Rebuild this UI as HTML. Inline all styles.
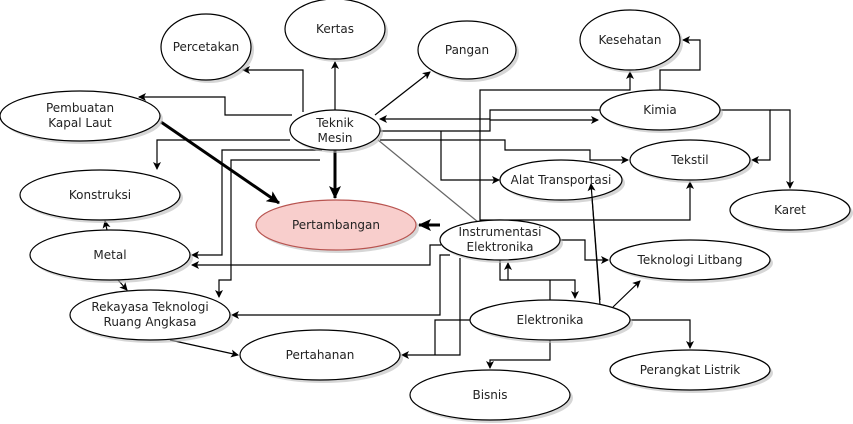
<!DOCTYPE html>
<html><head><meta charset="utf-8"><style>
html,body{margin:0;padding:0;background:#fff;}
svg{display:block;}
text{font-family:"DejaVu Sans","Liberation Sans",sans-serif;font-size:12px;fill:#222;text-anchor:middle;}
</style></head><body>
<svg width="853" height="424" viewBox="0 0 853 424" xmlns="http://www.w3.org/2000/svg">
<defs>
<marker id="a" markerWidth="8" markerHeight="8" refX="7" refY="4" orient="auto" markerUnits="userSpaceOnUse"><path d="M0,0 L8,4 L0,8 L2,4 z" fill="#000"/></marker>
<marker id="b" markerWidth="14" markerHeight="12" refX="12" refY="6" orient="auto" markerUnits="userSpaceOnUse"><path d="M0,0 L13,6 L0,12 L3,6 z" fill="#000"/></marker>
</defs>
<g fill="none" stroke="#000" stroke-width="1.2">
<path d="M335,110 V62" marker-end="url(#a)"/>
<path d="M303,112 V70 H243" marker-end="url(#a)"/>
<path d="M292,115 H225 V97 H139" marker-end="url(#a)"/>
<path d="M375,115 L430,72" marker-end="url(#a)"/>
<path d="M600,110 H490 V119 H380" marker-end="url(#a)"/>
<path d="M380,131 H490 V120 H598" marker-end="url(#a)"/>
<path d="M380,140 H505 V150 H590 V160 H628" marker-end="url(#a)"/>
<path d="M441,131 V180 H499" marker-end="url(#a)"/>
<path d="M660,90 V70 H700 V40 H683" marker-end="url(#a)"/>
<path d="M480,222 V90 H630 V72" marker-end="url(#a)"/>
<path d="M720,110 H770 V160 H752" marker-end="url(#a)"/>
<path d="M770,110 H790 V188" marker-end="url(#a)"/>
<path d="M480,220 H690 V182" marker-end="url(#a)"/>
<path d="M600,305 L591,184" marker-end="url(#a)"/>
<path d="M290,140 H157 V169" marker-end="url(#a)"/>
<path d="M322,150 H222 V255 H192" marker-end="url(#a)"/>
<path d="M320,160 H231 V280 H219 V297" marker-end="url(#a)"/>
<path d="M441,245 H430 V265 H192" marker-end="url(#a)"/>
<path d="M450,255 H440 V315 H232" marker-end="url(#a)"/>
<path d="M460,258 V355 H402" marker-end="url(#a)"/>
<path d="M470,320 H435 V355"/>
<path d="M500,260 V280 H575 V298" marker-end="url(#a)"/>
<path d="M508,280 V263" marker-end="url(#a)"/>
<path d="M550,280 V300"/>
<path d="M560,240 H585 V260 H608" marker-end="url(#a)"/>
<path d="M613,307 L640,281" marker-end="url(#a)"/>
<path d="M630,320 H690 V348" marker-end="url(#a)"/>
<path d="M550,340 V360 H490 V368" marker-end="url(#a)"/>
<path d="M107,230 L105,221" marker-end="url(#a)"/>
<path d="M118,280 L127,290" marker-end="url(#a)"/>
<path d="M170,340 L238,355" marker-end="url(#a)"/>
<path d="M378,140 L478,222" stroke="#666"/>
<path d="M335,150 V198" stroke-width="3" marker-end="url(#b)"/>
<path d="M161,122 L279,203" stroke-width="3" marker-end="url(#b)"/>
<path d="M440,225 H419" stroke-width="3" marker-end="url(#b)"/>
</g>
<g stroke="#000" stroke-width="1.2">
<g fill="#bbb" stroke="none" opacity="0.6">
<ellipse cx="209" cy="50" rx="45" ry="33"/><ellipse cx="338" cy="32" rx="50" ry="30"/><ellipse cx="470" cy="53" rx="49" ry="29"/><ellipse cx="633" cy="43" rx="50" ry="30"/><ellipse cx="663" cy="113" rx="60" ry="20"/><ellipse cx="693" cy="163" rx="60" ry="20"/><ellipse cx="564" cy="183" rx="61" ry="20"/><ellipse cx="793" cy="213" rx="60" ry="20"/><ellipse cx="338" cy="133" rx="45" ry="20"/><ellipse cx="83" cy="119" rx="80" ry="25"/><ellipse cx="103" cy="198" rx="80" ry="25"/><ellipse cx="339" cy="228" rx="80" ry="25"/><ellipse cx="113" cy="258" rx="80" ry="25"/><ellipse cx="153" cy="318" rx="80" ry="25"/><ellipse cx="323" cy="358" rx="80" ry="25"/><ellipse cx="503" cy="243" rx="60" ry="20"/><ellipse cx="693" cy="263" rx="80" ry="20"/><ellipse cx="553" cy="323" rx="80" ry="20"/><ellipse cx="693" cy="373" rx="80" ry="20"/><ellipse cx="493" cy="398" rx="80" ry="25"/>
</g>
<g fill="#fff">
<ellipse cx="206" cy="47" rx="45" ry="33"/><ellipse cx="335" cy="29" rx="50" ry="30"/><ellipse cx="467" cy="50" rx="49" ry="29"/><ellipse cx="630" cy="40" rx="50" ry="30"/><ellipse cx="660" cy="110" rx="60" ry="20"/><ellipse cx="690" cy="160" rx="60" ry="20"/><ellipse cx="561" cy="180" rx="61" ry="20"/><ellipse cx="790" cy="210" rx="60" ry="20"/><ellipse cx="335" cy="130" rx="45" ry="20"/><ellipse cx="80" cy="116" rx="80" ry="25"/><ellipse cx="100" cy="195" rx="80" ry="25"/><ellipse cx="336" cy="225" rx="80" ry="25" fill="#f8cecc" stroke="#b85450"/><ellipse cx="110" cy="255" rx="80" ry="25"/><ellipse cx="150" cy="315" rx="80" ry="25"/><ellipse cx="320" cy="355" rx="80" ry="25"/><ellipse cx="500" cy="240" rx="60" ry="20"/><ellipse cx="690" cy="260" rx="80" ry="20"/><ellipse cx="550" cy="320" rx="80" ry="20"/><ellipse cx="690" cy="370" rx="80" ry="20"/><ellipse cx="490" cy="395" rx="80" ry="25"/>
</g>
</g>
<path d="M600,300 L591,184" stroke="#000" stroke-width="1.2" fill="none" marker-end="url(#a)"/>
<text x="206" y="51">Percetakan</text>
<text x="335" y="33">Kertas</text>
<text x="467" y="54">Pangan</text>
<text x="630" y="44">Kesehatan</text>
<text x="660" y="114">Kimia</text>
<text x="690" y="164">Tekstil</text>
<text x="561" y="184">Alat Transportasi</text>
<text x="790" y="214">Karet</text>
<text x="335" y="127">Teknik</text><text x="335" y="142">Mesin</text>
<text x="80" y="112">Pembuatan</text><text x="80" y="127">Kapal Laut</text>
<text x="100" y="199">Konstruksi</text>
<text x="336" y="229">Pertambangan</text>
<text x="110" y="259">Metal</text>
<text x="150" y="311">Rekayasa Teknologi</text><text x="150" y="326">Ruang Angkasa</text>
<text x="320" y="359">Pertahanan</text>
<text x="500" y="236">Instrumentasi</text><text x="500" y="251">Elektronika</text>
<text x="690" y="264">Teknologi Litbang</text>
<text x="550" y="324">Elektronika</text>
<text x="690" y="374">Perangkat Listrik</text>
<text x="490" y="399">Bisnis</text>
</svg>
</body></html>
